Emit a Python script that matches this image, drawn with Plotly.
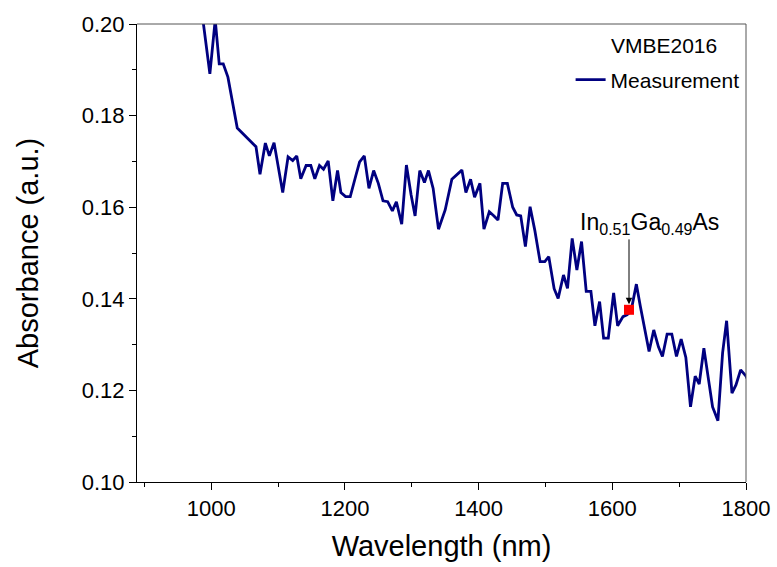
import plotly.graph_objects as go

wavelength = [984, 998, 1006, 1012, 1018, 1025, 1039, 1067, 1073, 1081, 1087, 1094,
              1107, 1115, 1122, 1128, 1134, 1142, 1149, 1155, 1162, 1168, 1175, 1182,
              1189, 1194, 1201, 1208, 1216, 1222, 1229, 1236, 1243, 1250, 1257, 1264,
              1271, 1277, 1285, 1292, 1299, 1305, 1312, 1319, 1325, 1332, 1340, 1350,
              1360, 1367, 1375, 1381, 1388, 1394, 1402, 1408, 1416, 1423, 1429, 1436,
              1443, 1451, 1457, 1463, 1470, 1477, 1484, 1492, 1499, 1505, 1513, 1519,
              1527, 1533, 1540, 1547, 1554, 1561, 1568, 1574, 1581, 1587, 1594, 1602,
              1608, 1616, 1622, 1628, 1636, 1642, 1649, 1655, 1662, 1669, 1675, 1682,
              1689, 1696, 1703, 1710, 1717, 1724, 1730, 1737, 1744, 1750, 1758, 1765,
              1771, 1779, 1785, 1792, 1800, 1807]
absorbance = [0.2050, 0.1891, 0.2009, 0.1913, 0.1913, 0.1884, 0.1773, 0.1732, 0.1672, 0.1740,
              0.1712, 0.1741, 0.1632, 0.1710, 0.1702, 0.1712, 0.1662, 0.1691, 0.1691, 0.1662,
              0.1691, 0.1683, 0.1701, 0.1614, 0.1680, 0.1632, 0.1623, 0.1623, 0.1667, 0.1699,
              0.1712, 0.1641, 0.1680, 0.1652, 0.1614, 0.1612, 0.1592, 0.1612, 0.1563, 0.1692,
              0.1627, 0.1581, 0.1680, 0.1654, 0.1680, 0.1641, 0.1552, 0.1594, 0.1661, 0.1670,
              0.1681, 0.1632, 0.1661, 0.1622, 0.1652, 0.1552, 0.1590, 0.1581, 0.1572, 0.1652,
              0.1652, 0.1600, 0.1583, 0.1581, 0.1514, 0.1601, 0.1550, 0.1481, 0.1481, 0.1492,
              0.1422, 0.1401, 0.1452, 0.1423, 0.1532, 0.1463, 0.1525, 0.1416, 0.1416, 0.1341,
              0.1394, 0.1314, 0.1314, 0.1413, 0.1341, 0.1361, 0.1365, 0.1373, 0.1432, 0.1383,
              0.1328, 0.1285, 0.1332, 0.1295, 0.1274, 0.1323, 0.1323, 0.1274, 0.1312, 0.1272,
              0.1164, 0.1231, 0.1214, 0.1292, 0.1223, 0.1164, 0.1134, 0.1282, 0.1352, 0.1194,
              0.1212, 0.1245, 0.1231, 0.1210]

marker_wavelength = [1625]
marker_absorbance = [0.1376]
arrow_tail_absorbance = 0.1533
series_name = "Measurement"
legend_title = "VMBE2016"
label_text = "In<sub>0.51</sub>Ga<sub>0.49</sub>As"

FONT = "Liberation Sans, Arial, sans-serif"

fig = go.Figure()
fig.add_trace(go.Scatter(x=wavelength, y=absorbance, mode="lines", name=series_name,
                         line=dict(color="#000080", width=2.8), showlegend=True))
fig.add_trace(go.Scatter(x=marker_wavelength, y=marker_absorbance, mode="markers",
                         marker=dict(symbol="square", size=10, color="#ff0000"),
                         showlegend=False))

fig.update_layout(
    width=777, height=567,
    margin=dict(l=137, r=31, t=24, b=85, autoexpand=False),
    paper_bgcolor="white", plot_bgcolor="white",
    font=dict(family=FONT, color="black"),
    legend=dict(x=0.712, y=0.878, xanchor="left", yanchor="middle",
                bgcolor="rgba(0,0,0,0)", font=dict(size=21, family=FONT),
                itemwidth=30),
    xaxis=dict(range=[889, 1800], tick0=1000, dtick=200, ticks="outside", ticklen=7,
               tickwidth=1, tickcolor="black", showline=True, linecolor="black",
               linewidth=1, showgrid=False, zeroline=False, automargin=False,
               tickfont=dict(size=22, family=FONT),
               title=dict(text="Wavelength (nm)", font=dict(size=29, family=FONT), standoff=15),
               minor=dict(dtick=100, tick0=900, ticks="outside", ticklen=4, tickcolor="black")),
    yaxis=dict(range=[0.10, 0.20], tick0=0.10, dtick=0.02, ticks="outside", ticklen=7,
               tickwidth=1, tickcolor="black", showline=True, linecolor="black",
               linewidth=1, showgrid=False, zeroline=False, tickformat=".2f",
               automargin=False,
               tickfont=dict(size=22, family=FONT),
               title=dict(text="Absorbance (a.u.)", font=dict(size=29, family=FONT), standoff=34),
               minor=dict(dtick=0.01, ticks="outside", ticklen=4, tickcolor="black")),
    shapes=[
        dict(type="line", xref="paper", yref="paper", x0=0, x1=1, y0=1, y1=1,
             line=dict(color="#555555", width=1)),
        dict(type="line", xref="paper", yref="paper", x0=1, x1=1, y0=0, y1=1,
             line=dict(color="#555555", width=1)),
    ],
    annotations=[
        dict(text=legend_title, xref="paper", yref="paper", x=0.955, y=0.953,
             xanchor="right", yanchor="middle", showarrow=False,
             font=dict(size=21, family=FONT)),
        dict(text=label_text, x=marker_wavelength[0] + 30, y=0.1565, xref="x", yref="y",
             showarrow=False, xanchor="center", yanchor="middle",
             font=dict(size=23, family=FONT)),
        dict(text="", x=marker_wavelength[0], y=marker_absorbance[0] + 0.0012,
             xref="x", yref="y", ax=marker_wavelength[0], ay=arrow_tail_absorbance,
             axref="x", ayref="y", showarrow=True, arrowhead=2, arrowsize=1.3,
             arrowwidth=1, arrowcolor="black"),
    ],
)

fig.write_html("out.html")
